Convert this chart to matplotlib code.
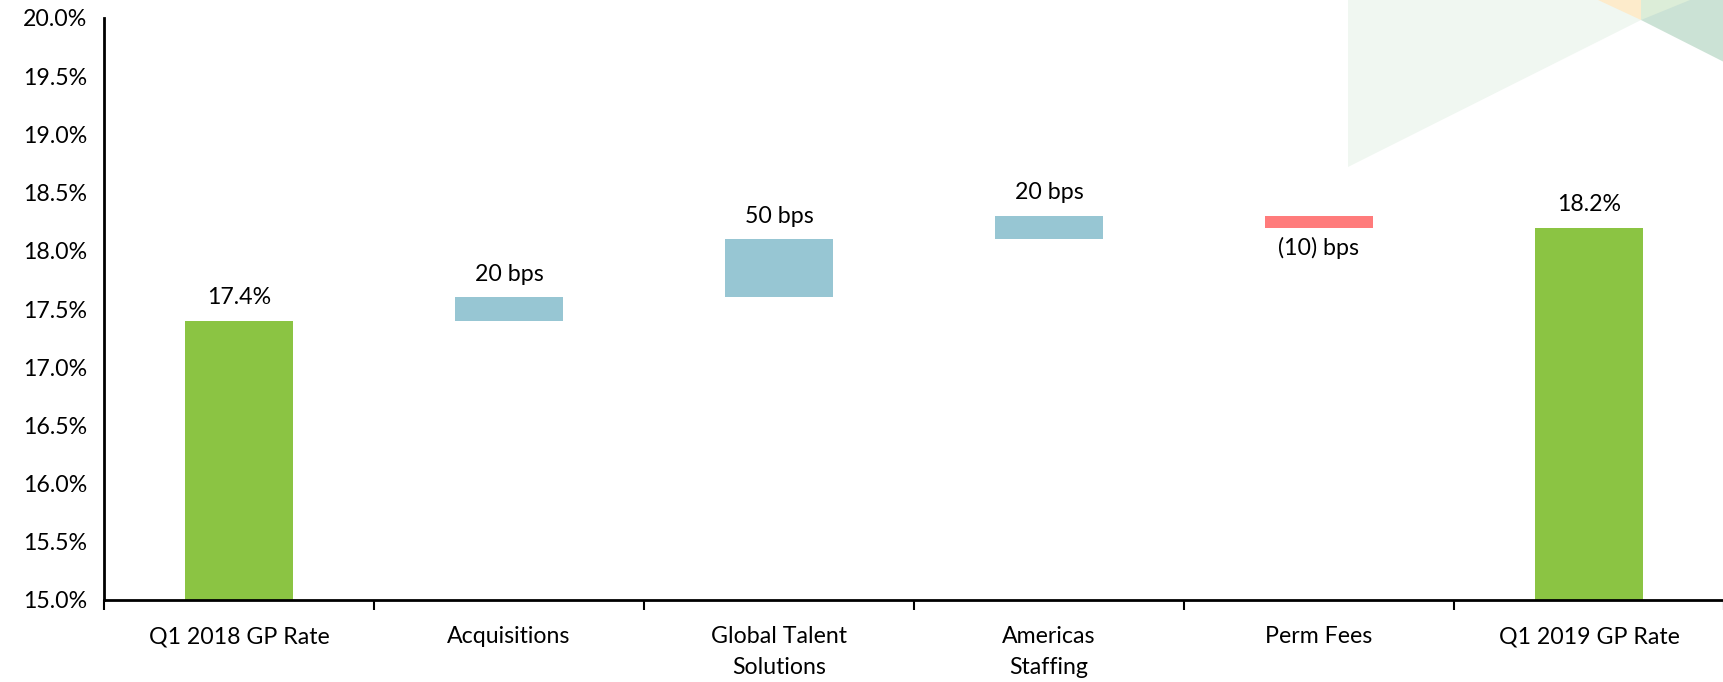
import matplotlib
matplotlib.use("Agg")
import matplotlib.pyplot as plt
from matplotlib.patches import Polygon
from matplotlib.ticker import FuncFormatter, MultipleLocator

plt.rcParams['font.family'] = ['Lato', 'DejaVu Sans']

# data
categories = ["Q1 2018 GP Rate", "Acquisitions", "Global Talent\nSolutions",
              "Americas\nStaffing", "Perm Fees", "Q1 2019 GP Rate"]
start_rate = 17.4
deltas = [0.2, 0.5, 0.2, -0.1]
end_rate = 18.2
labels = ["17.4%", "20 bps", "50 bps", "20 bps", "(10) bps", "18.2%"]

GREEN = "#8BC443"
BLUE = "#97C6D3"
RED = "#FF7B7B"

# waterfall geometry
bottoms, heights, colors = [15.0], [start_rate - 15.0], [GREEN]
level = start_rate
for d in deltas:
    bottoms.append(level if d >= 0 else level + d)
    heights.append(abs(d))
    colors.append(BLUE if d >= 0 else RED)
    level += d
bottoms.append(15.0)
heights.append(end_rate - 15.0)
colors.append(GREEN)

W, H = 1724, 682
fig = plt.figure(figsize=(W / 100, H / 100), dpi=100)

# decorative triangles in the top right corner
def px(pts):
    return [(x / W, 1 - y / H) for x, y in pts]

fig.add_artist(Polygon(px([(1348, 0), (1348, 167), (1641, 20), (1641, 0)]),
                       closed=True, transform=fig.transFigure,
                       facecolor="#F0F7F1", edgecolor="none", zorder=0))
fig.add_artist(Polygon(px([(1598, 0), (1641, 20), (1641, 0)]),
                       closed=True, transform=fig.transFigure,
                       facecolor="#FDEBCB", edgecolor="none", zorder=0))
fig.add_artist(Polygon(px([(1641, 0), (1641, 20), (1724, 62), (1724, 0)]),
                       closed=True, transform=fig.transFigure,
                       facecolor="#CBE2D5", edgecolor="none", zorder=0))
fig.add_artist(Polygon(px([(1641, 0), (1641, 20), (1690, 0)]),
                       closed=True, transform=fig.transFigure,
                       facecolor="#DCEDD8", edgecolor="none", zorder=0))

ax = fig.add_axes([104 / W, 1 - 600 / H, (W - 104) / W, 582 / H])
ax.patch.set_alpha(0)

FS = 16.7

x = range(len(categories))
ax.bar(x, heights, bottom=bottoms, width=0.4, color=colors, zorder=2)

for i, (b, h, lab) in enumerate(zip(bottoms, heights, labels)):
    neg = colors[i] == RED
    if neg:
        ax.annotate(lab, (i, b), xytext=(0, -7), textcoords="offset points",
                    ha="center", va="top", fontsize=FS)
    else:
        ax.annotate(lab, (i, b + h), xytext=(0, 9), textcoords="offset points",
                    ha="center", va="bottom", fontsize=FS)

ax.set_ylim(15.0, 20.0)
ax.set_xlim(-0.5, len(categories) - 0.5)
ax.yaxis.set_major_locator(MultipleLocator(0.5))
ax.yaxis.set_major_formatter(FuncFormatter(lambda v, p: f"{v:.1f}%"))
ax.tick_params(axis="y", length=0, labelsize=FS, pad=12)

ax.set_xticks(list(x))
ax.set_xticklabels(categories, fontsize=FS, linespacing=1.55, va="top")
ax.set_xticks([i - 0.5 for i in range(len(categories) + 1)], minor=True)
ax.tick_params(axis="x", which="major", length=0, pad=19)
ax.tick_params(axis="x", which="minor", length=7, width=1.5, color="black")

for s in ["top", "right"]:
    ax.spines[s].set_visible(False)
for s in ["left", "bottom"]:
    ax.spines[s].set_linewidth(2)
    ax.spines[s].set_color("black")

fig.savefig("out.png", dpi=100)
